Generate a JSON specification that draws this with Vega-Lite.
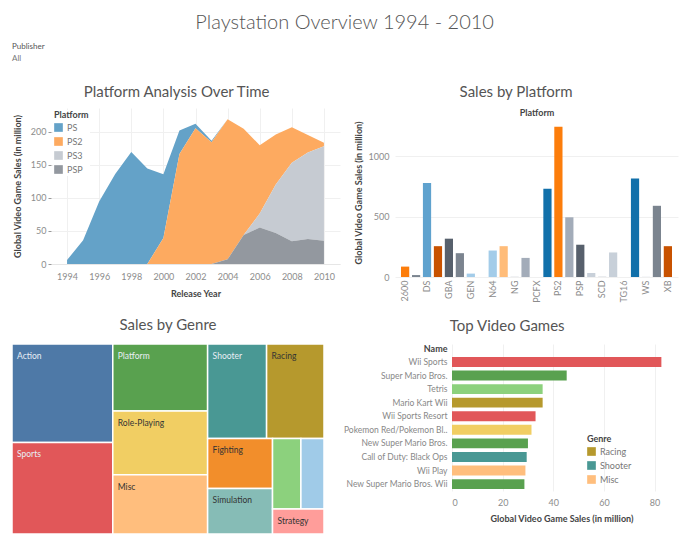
{
  "$schema": "https://vega.github.io/schema/vega-lite/v6.json",
  "background": "white",
  "padding": {"left": 11, "top": 12, "right": 2, "bottom": 2},
  "title": {"text": "Playstation Overview 1994 - 2010", "fontSize": 20, "fontWeight": 300, "color": "#555", "anchor": "middle", "offset": 10},
  "config": {
    "font": "Lato",
    "view": {"stroke": null},
    "axis": {"labelColor": "#8c8c8c", "labelFontSize": 9, "titleColor": "#444", "titleFontSize": 9, "titleFontWeight": "bold", "gridColor": "#f0f0f0", "domain": false, "ticks": false},
    "title": {"color": "#555", "fontWeight": "normal", "fontSize": 15, "frame": "bounds"},
    "legend": {"titleFontSize": 9, "titleColor": "#444", "labelFontSize": 9, "labelColor": "#777", "symbolType": "square", "symbolSize": 75, "symbolStrokeWidth": 0}
  },
  "spacing": 15,
  "resolve": {"scale": {"color": "independent"}, "legend": {"color": "independent"}},
  "vconcat": [
    {
      "width": 1,
      "height": 7,
      "title": {"text": "Publisher", "subtitle": "All", "anchor": "start", "frame": "group", "fontSize": 8, "subtitleFontSize": 8, "color": "#555", "subtitleColor": "#777", "offset": 0, "subtitlePadding": 4},
      "data": {"values": [{"v": 0}]},
      "mark": {"type": "rule", "opacity": 0},
      "encoding": {}
    },
    {
      "spacing": 0,
      "resolve": {"scale": {"color": "independent"}, "legend": {"color": "independent"}},
      "hconcat": [
        {
          "width": 1,
          "height": 1,
          "data": {"values": [{"v": 0}]},
          "mark": {"type": "rule", "opacity": 0},
          "encoding": {}
        },
        {
          "spacing": 14,
          "resolve": {"scale": {"color": "independent"}, "legend": {"color": "independent"}},
          "hconcat": [
            {
              "width": 289,
              "height": 156,
              "title": {"text": "Platform Analysis Over Time", "offset": 8},
              "data": {"values": [
                {"Year": 1994, "Platform": "PS", "Sales": 6.0},
                {"Year": 1995, "Platform": "PS", "Sales": 35.9},
                {"Year": 1996, "Platform": "PS", "Sales": 94.7},
                {"Year": 1997, "Platform": "PS", "Sales": 136.2},
                {"Year": 1998, "Platform": "PS", "Sales": 169.5},
                {"Year": 1999, "Platform": "PS", "Sales": 144.5},
                {"Year": 2000, "Platform": "PS", "Sales": 96.4},
                {"Year": 2001, "Platform": "PS", "Sales": 35.6},
                {"Year": 2002, "Platform": "PS", "Sales": 6.7},
                {"Year": 2003, "Platform": "PS", "Sales": 2.1},
                {"Year": 2000, "Platform": "PS2", "Sales": 39.2},
                {"Year": 2001, "Platform": "PS2", "Sales": 166.4},
                {"Year": 2002, "Platform": "PS2", "Sales": 205.4},
                {"Year": 2003, "Platform": "PS2", "Sales": 184.3},
                {"Year": 2004, "Platform": "PS2", "Sales": 211.8},
                {"Year": 2005, "Platform": "PS2", "Sales": 160.7},
                {"Year": 2006, "Platform": "PS2", "Sales": 103.4},
                {"Year": 2007, "Platform": "PS2", "Sales": 76.0},
                {"Year": 2008, "Platform": "PS2", "Sales": 53.9},
                {"Year": 2009, "Platform": "PS2", "Sales": 26.4},
                {"Year": 2010, "Platform": "PS2", "Sales": 5.6},
                {"Year": 2006, "Platform": "PS3", "Sales": 21.0},
                {"Year": 2007, "Platform": "PS3", "Sales": 73.2},
                {"Year": 2008, "Platform": "PS3", "Sales": 118.5},
                {"Year": 2009, "Platform": "PS3", "Sales": 130.9},
                {"Year": 2010, "Platform": "PS3", "Sales": 143.0},
                {"Year": 2004, "Platform": "PSP", "Sales": 7.1},
                {"Year": 2005, "Platform": "PSP", "Sales": 43.8},
                {"Year": 2006, "Platform": "PSP", "Sales": 55.3},
                {"Year": 2007, "Platform": "PSP", "Sales": 46.9},
                {"Year": 2008, "Platform": "PSP", "Sales": 34.6},
                {"Year": 2009, "Platform": "PSP", "Sales": 37.8},
                {"Year": 2010, "Platform": "PSP", "Sales": 35.0}
              ]},
              "mark": {"type": "area"},
              "encoding": {
                "x": {"field": "Year", "type": "quantitative", "scale": {"domain": [1993, 2011], "nice": false, "zero": false},
                      "axis": {"values": [1994, 1996, 1998, 2000, 2002, 2004, 2006, 2008, 2010], "format": "d", "title": "Release Year", "titlePadding": 8, "labelPadding": 8, "domain": true, "domainColor": "#e6e6e6"}},
                "y": {"field": "Sales", "type": "quantitative", "stack": "zero", "scale": {"domain": [0, 236], "nice": false},
                      "axis": {"values": [0, 50, 100, 150, 200], "title": "Global Video Game Sales (in million)", "ticks": true, "tickSize": 3, "tickColor": "#999", "labelPadding": 2, "titlePadding": 8}},
                "color": {"field": "Platform", "type": "nominal",
                          "scale": {"domain": ["PS", "PS2", "PS3", "PSP"], "range": ["#64a2c8", "#fdaa60", "#c6cbd2", "#93989f"]},
                          "legend": {"orient": "top-left", "offset": 2, "title": "Platform", "fillColor": "white", "padding": 1, "rowPadding": 4, "titlePadding": 3}},
                "order": {"field": "Platform", "sort": "descending"}
              }
            },
            {
              "width": 283,
              "height": 169,
              "title": {"text": "Sales by Platform", "offset": 8},
              "data": {"values": [
                {"Platform": "2600", "Sales": 86},
                {"Platform": "DC", "Sales": 16},
                {"Platform": "DS", "Sales": 778},
                {"Platform": "GB", "Sales": 255},
                {"Platform": "GBA", "Sales": 317},
                {"Platform": "GC", "Sales": 197},
                {"Platform": "GEN", "Sales": 28},
                {"Platform": "GG", "Sales": 0.04},
                {"Platform": "N64", "Sales": 219},
                {"Platform": "NES", "Sales": 255},
                {"Platform": "NG", "Sales": 1.4},
                {"Platform": "PC", "Sales": 158},
                {"Platform": "PCFX", "Sales": 0.03},
                {"Platform": "PS", "Sales": 730},
                {"Platform": "PS2", "Sales": 1242},
                {"Platform": "PS3", "Sales": 494},
                {"Platform": "PSP", "Sales": 267},
                {"Platform": "SAT", "Sales": 33},
                {"Platform": "SCD", "Sales": 1.9},
                {"Platform": "SNES", "Sales": 203},
                {"Platform": "TG16", "Sales": 0.2},
                {"Platform": "Wii", "Sales": 814},
                {"Platform": "WS", "Sales": 1.4},
                {"Platform": "X360", "Sales": 589},
                {"Platform": "XB", "Sales": 255}
              ]},
              "layer": [
                {
                  "mark": {"type": "bar"},
                  "encoding": {
                    "x": {"field": "Platform", "type": "nominal",
                          "sort": ["2600","DC","DS","GB","GBA","GC","GEN","GG","N64","NES","NG","PC","PCFX","PS","PS2","PS3","PSP","SAT","SCD","SNES","TG16","Wii","WS","X360","XB"],
                          "scale": {"paddingInner": 0.25, "paddingOuter": 0.55},
                          "axis": {"orient": "bottom", "title": null, "labelAngle": -90, "values": ["2600","DS","GBA","GEN","N64","NG","PCFX","PS2","PSP","SCD","TG16","WS","XB"], "labelPadding": 3}},
                    "y": {"field": "Sales", "type": "quantitative", "scale": {"domain": [0, 1398], "nice": false},
                          "axis": {"values": [0, 500, 1000], "format": "d", "title": "Global Video Game Sales (in million)", "labelPadding": 6, "titlePadding": 5}},
                    "color": {"field": "Platform", "type": "nominal", "legend": null,
                              "scale": {"domain": ["2600","DC","DS","GB","GBA","GC","GEN","GG","N64","NES","NG","PC","PCFX","PS","PS2","PS3","PSP","SAT","SCD","SNES","TG16","Wii","WS","X360","XB"],
                                        "range": ["#fc7d0b","#7b848f","#5fa2ce","#c85200","#57606c","#7b848f","#a3cce9","#a3acb9","#a3cce9","#ffbc79","#a3acb9","#a3acb9","#c8d0d9","#1170aa","#fc7d0b","#a3acb9","#57606c","#c8d0d9","#a3acb9","#c8d0d9","#c8d0d9","#1170aa","#c8d0d9","#7b848f","#c85200"]}}
                  }
                },
                {
                  "mark": {"type": "bar", "opacity": 0},
                  "encoding": {
                    "x": {"field": "Platform", "type": "nominal",
                          "sort": ["2600","DC","DS","GB","GBA","GC","GEN","GG","N64","NES","NG","PC","PCFX","PS","PS2","PS3","PSP","SAT","SCD","SNES","TG16","Wii","WS","X360","XB"],
                          "axis": {"orient": "top", "title": "Platform", "labels": false, "ticks": false, "domain": false, "grid": false, "titleBaseline": "bottom", "titleY": 9}},
                    "y": {"field": "Sales", "type": "quantitative"}
                  }
                }
              ]
            }
          ]
        }
      ]
    },
    {
      "spacing": 18,
      "resolve": {"scale": {"color": "independent"}, "legend": {"color": "independent"}},
      "hconcat": [
        {
          "width": 312,
          "height": 190,
          "title": {"text": "Sales by Genre", "offset": 10},
          "data": {"values": [
            {"Genre": "Action", "Sales": 1180, "x0": 0, "x1": 0.323, "y0": 0, "y1": 0.518},
            {"Genre": "Sports", "Sales": 1096, "x0": 0, "x1": 0.323, "y0": 0.518, "y1": 1},
            {"Genre": "Platform", "Sales": 751, "x0": 0.323, "x1": 0.627, "y0": 0, "y1": 0.352},
            {"Genre": "Role-Playing", "Sales": 717, "x0": 0.323, "x1": 0.627, "y0": 0.352, "y1": 0.688},
            {"Genre": "Misc", "Sales": 665, "x0": 0.323, "x1": 0.627, "y0": 0.688, "y1": 1},
            {"Genre": "Shooter", "Sales": 661, "x0": 0.627, "x1": 0.816, "y0": 0, "y1": 0.497},
            {"Genre": "Racing", "Sales": 647, "x0": 0.816, "x1": 1, "y0": 0, "y1": 0.497},
            {"Genre": "Fighting", "Sales": 385, "x0": 0.627, "x1": 0.835, "y0": 0.497, "y1": 0.76},
            {"Genre": "Simulation", "Sales": 352, "x0": 0.627, "x1": 0.835, "y0": 0.76, "y1": 1},
            {"Genre": "Puzzle", "Sales": 237, "x0": 0.835, "x1": 0.926, "y0": 0.497, "y1": 0.868},
            {"Genre": "Adventure", "Sales": 195, "x0": 0.926, "x1": 1, "y0": 0.497, "y1": 0.868},
            {"Genre": "Strategy", "Sales": 153, "x0": 0.835, "x1": 1, "y0": 0.868, "y1": 1}
          ]},
          "layer": [
            {
              "mark": {"type": "rect", "stroke": "white", "strokeWidth": 1.5},
              "encoding": {
                "x": {"field": "x0", "type": "quantitative", "scale": {"domain": [0, 1], "nice": false, "zero": false}, "axis": null},
                "x2": {"field": "x1"},
                "y": {"field": "y0", "type": "quantitative", "scale": {"domain": [0, 1], "nice": false, "reverse": true}, "axis": null},
                "y2": {"field": "y1"},
                "color": {"field": "Genre", "type": "nominal", "legend": null,
                          "scale": {"domain": ["Action","Sports","Platform","Role-Playing","Misc","Shooter","Racing","Fighting","Simulation","Puzzle","Adventure","Strategy"],
                                    "range": ["#4e79a7","#e15759","#59a14f","#f1ce63","#ffbe7d","#499894","#b6992d","#f28e2b","#86bcb6","#8cd17d","#a0cbe8","#ff9d9a"]}}
              }
            },
            {
              "transform": [{"filter": "datum.Genre != 'Puzzle' && datum.Genre != 'Adventure'"}],
              "mark": {"type": "text", "align": "left", "baseline": "middle", "dx": 5, "dy": 12, "fontSize": 8.5},
              "encoding": {
                "x": {"field": "x0", "type": "quantitative"},
                "y": {"field": "y0", "type": "quantitative"},
                "text": {"field": "Genre"},
                "color": {"condition": {"test": "indexof(['Action','Sports','Platform','Shooter'], datum.Genre) >= 0", "value": "#e8eef5"}, "value": "#333333"}
              }
            }
          ]
        },
        {
          "width": 219,
          "height": 147,
          "title": {"text": "Top Video Games", "offset": 10},
          "data": {"values": [
            {"Name": "Wii Sports", "Genre": "Sports", "Sales": 82.7},
            {"Name": "Super Mario Bros.", "Genre": "Platform", "Sales": 45.3},
            {"Name": "Tetris", "Genre": "Puzzle", "Sales": 35.8},
            {"Name": "Mario Kart Wii", "Genre": "Racing", "Sales": 35.8},
            {"Name": "Wii Sports Resort", "Genre": "Sports", "Sales": 33.0},
            {"Name": "Pokemon Red/Pokemon Blue", "Genre": "Role-Playing", "Sales": 31.4},
            {"Name": "New Super Mario Bros.", "Genre": "Platform", "Sales": 30.0},
            {"Name": "Call of Duty: Black Ops", "Genre": "Shooter", "Sales": 29.5},
            {"Name": "Wii Play", "Genre": "Misc", "Sales": 29.0},
            {"Name": "New Super Mario Bros. Wii", "Genre": "Platform", "Sales": 28.6}
          ]},
          "mark": {"type": "bar"},
          "encoding": {
            "y": {"field": "Name", "type": "nominal",
                  "sort": ["Wii Sports","Super Mario Bros.","Tetris","Mario Kart Wii","Wii Sports Resort","Pokemon Red/Pokemon Blue","New Super Mario Bros.","Call of Duty: Black Ops","Wii Play","New Super Mario Bros. Wii"],
                  "scale": {"paddingInner": 0.27, "paddingOuter": 0.55, "align": 0.87},
                  "axis": {"title": "Name", "titleAngle": 0, "titleAlign": "right", "titleBaseline": "bottom", "titleX": -5, "titleY": 9, "labelColor": "#888", "labelFontSize": 8.5, "labelPadding": 5, "labelLimit": 200,
                           "labelExpr": "indexof(datum.label, '/') > 0 ? slice(datum.label, 0, 22) + '..' : datum.label"}},
            "x": {"field": "Sales", "type": "quantitative", "scale": {"domain": [0, 86.5], "nice": false},
                  "axis": {"values": [0, 20, 40, 60, 80], "title": "Global Video Game Sales (in million)", "labelPadding": 7, "titlePadding": 7}},
            "color": {"field": "Genre", "type": "nominal",
                      "scale": {"domain": ["Action","Sports","Platform","Role-Playing","Misc","Shooter","Racing","Fighting","Simulation","Puzzle","Adventure","Strategy"],
                                "range": ["#4e79a7","#e15759","#59a14f","#f1ce63","#ffbe7d","#499894","#b6992d","#f28e2b","#86bcb6","#8cd17d","#a0cbe8","#ff9d9a"]},
                      "legend": {"values": ["Racing", "Shooter", "Misc"], "orient": "none", "legendX": 135, "legendY": 91, "title": "Genre", "rowPadding": 4, "titlePadding": 3}}
          }
        }
      ]
    }
  ]
}
